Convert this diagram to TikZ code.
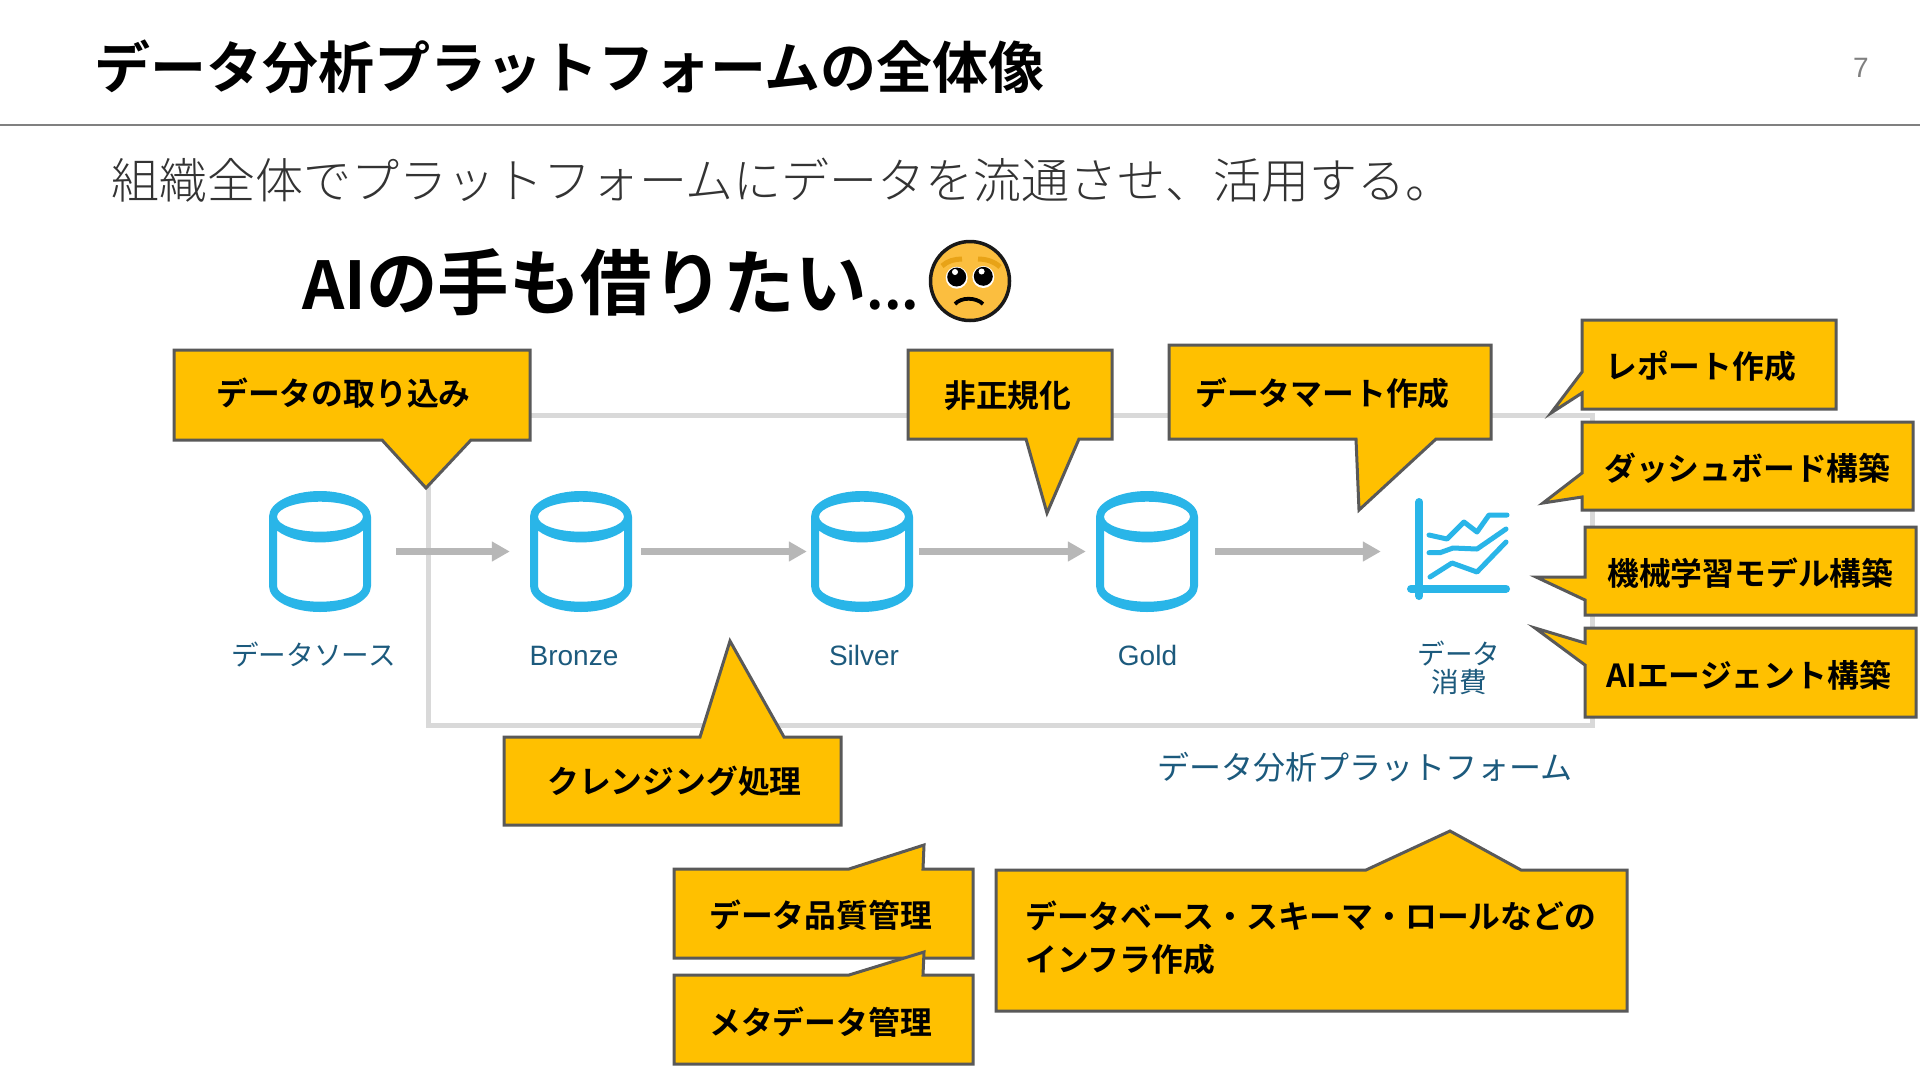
\documentclass[tikz,border=0pt]{standalone}
\usepackage{fontspec}
\usetikzlibrary{arrows.meta}
\setmainfont{Noto Sans CJK JP}[BoldFont={Noto Sans CJK JP Bold}]
\newfontfamily\titlefont{Noto Sans CJK JP Bold}
\newfontfamily\lightfont{Noto Sans CJK JP Light}
\newfontfamily\latinfont{Liberation Sans}
\definecolor{boxfill}{HTML}{FFC000}
\definecolor{boxline}{HTML}{595959}
\definecolor{cyl}{HTML}{29B5E8}
\definecolor{lab}{HTML}{1C5A7D}
\definecolor{platform}{HTML}{D9D9D9}
\definecolor{flowc}{HTML}{B7B7B7}
\definecolor{face}{HTML}{FBBE3F}
\definecolor{brow}{HTML}{E8A317}
\tikzset{
  x=1pt,y=-1pt,
  callout/.style={draw=boxline,fill=boxfill,line width=3pt,line join=miter},
  ctext/.style={anchor=west,inner sep=0pt,font=\fontsize{31.8}{44}\selectfont\bfseries,text=black,text height=26pt,text depth=6pt},
  lbl/.style={inner sep=0pt,text=lab,font=\fontsize{27.6}{28}\selectfont},
  latlbl/.style={inner sep=0pt,text=lab,font=\fontsize{28}{34}\selectfont\latinfont},
  cylnode/.style={minimum width=102pt,minimum height=121pt,inner sep=0pt},
  flow/.style={draw=flowc,line width=6.5pt,-{Triangle[length=18pt,width=19pt]}},
  chartline/.style={draw=cyl,line width=5pt,line cap=round,line join=round},
  chartaxis/.style={draw=cyl,line width=8pt,line cap=round},
}
\newcommand{\cylinder}[1]{%
  \begin{scope}[shift={(#1.center)}]
  \fill[cyl,even odd rule]
    (-51,-34.8) arc[start angle=180,end angle=0,x radius=51pt,y radius=25.7pt]
      -- (51,34.5) arc[start angle=0,end angle=-180,x radius=51pt,y radius=26pt] -- cycle
    (-43,-34.8) arc[start angle=180,end angle=-180,x radius=43pt,y radius=15pt] -- cycle
    (-43,-21) arc[start angle=212.5,end angle=327.5,x radius=51pt,y radius=25.7pt]
      -- (43,34.5) arc[start angle=0,end angle=-180,x radius=43pt,y radius=15.7pt] -- cycle;
  \end{scope}
}
\begin{document}
\begin{tikzpicture}
\useasboundingbox (0,0) rectangle (1920,1080);
\fill[white] (0,0) rectangle (1920,1080);
% header
\node[anchor=west,inner sep=0pt,font=\fontsize{56}{60}\selectfont\titlefont] (title) at (94,67) {データ分析プラットフォームの全体像};
\node[inner sep=0pt,text=gray,font=\fontsize{28}{30}\selectfont\latinfont] (page) at (1861,68) {7};
\draw[draw=gray,line width=2pt] (0,124.5) -- (1920,124.5);
\node[anchor=west,inner sep=0pt,text=black!80,font=\fontsize{48}{50}\selectfont\lightfont] (sub) at (111,180) {組織全体でプラットフォームにデータを流通させ、活用する。};
\node[anchor=base west,inner sep=0pt,font=\fontsize{71.5}{76}\selectfont\titlefont] (ai) at (302,309) {{\fontsize{66}{70}\selectfont AI}の手も借りたい{\fontsize{54}{60}\selectfont...}};
% emoji face
\begin{scope}[shift={(970,281)}]
  \draw[fill=face,draw=black!90,line width=3.5pt] (0,0) circle[radius=39.5];
  \draw[draw=brow,line width=5pt] (-28,-15) .. controls (-23,-20) and (-15,-22) .. (-8,-22);
  \draw[draw=brow,line width=5pt] (30,-14) .. controls (24,-20) and (15,-22) .. (8,-22);
  \fill[white] (-13.3,-3.3) circle[radius=11];
  \fill[white] (13.3,-4) circle[radius=11];
  \fill[black] (-13.3,-4) circle[radius=9.5];
  \fill[black] (13.3,-4.7) circle[radius=9.5];
  \fill[white] (-15,-9) circle[radius=3];
  \fill[white] (11.6,-9.5) circle[radius=3];
  \draw[black,line width=3.8pt] (-15,23) .. controls (-9,16) and (6,16) .. (13,23);
\end{scope}
% platform frame
\draw[draw=platform,line width=5pt] (428.5,415) rectangle (1592,725);
% cylinders
\node[cylnode] (c1) at (320,551.5) {};
\node[cylnode] (c2) at (581,551.5) {};
\node[cylnode] (c3) at (862,551.5) {};
\node[cylnode] (c4) at (1147,551.5) {};
\cylinder{c1}\cylinder{c2}\cylinder{c3}\cylinder{c4}
% chart icon
\node[inner sep=0pt,minimum width=103pt,minimum height=102pt] (chart) at (1458.5,549) {};
\draw[chartaxis] (1419.3,502) -- (1419.3,596);
\draw[chartaxis] (1411,588.7) -- (1506,588.7);
\draw[chartline] (1429,535) -- (1447,539) -- (1464,522) -- (1477,532) -- (1489,515) -- (1507,515);
\draw[chartline] (1429,552.7) -- (1440,552.7) -- (1453,548) -- (1477,549) -- (1506,529);
\draw[chartline] (1430,577) -- (1452,563) -- (1477,572) -- (1506,542);
% arrows
\draw[flow,shorten <=25pt,shorten >=20pt] (c1.east) -- (c2.west);
\draw[flow,shorten <=9pt,shorten >=4pt] (c2.east) -- (c3.west);
\draw[flow,shorten <=6pt,shorten >=10pt] (c3.east) -- (c4.west);
\draw[flow,shorten <=17pt,shorten >=26pt] (c4.east) -- (chart.west |- c4.east);
% labels
\node[lbl] (l1) at (313.5,654.5) {データソース};
\node[latlbl] (l2) at (574,655.5) {Bronze};
\node[latlbl] (l3) at (864,655) {Silver};
\node[latlbl] (l4) at (1147.5,655) {Gold};
\node[lbl,align=center] (l5) at (1459,668) {データ\\消費};
\node[lbl,font=\fontsize{32}{36}\selectfont] (l6) at (1365,767) {データ分析プラットフォーム};
% callouts
\draw[callout] (174,350) -- (530,350) -- (530,440) -- (471,440) -- (426,488) -- (382,440) -- (174,440) -- cycle;
\node[ctext] (t1) at (216,395) {データの取り込み};
\draw[callout] (908,350) -- (1112,350) -- (1112,439) -- (1079,439) -- (1047,513) -- (1026,439) -- (908,439) -- cycle;
\node[ctext] (t2) at (944,397) {非正規化};
\draw[callout] (1169,345) -- (1491,345) -- (1491,439) -- (1436,439) -- (1359,510) -- (1356,439) -- (1169,439) -- cycle;
\node[ctext] (t3) at (1195,395) {データマート作成};
\draw[callout] (1582,320) -- (1836,320) -- (1836,409) -- (1582,409) -- (1582,393) -- (1551,413) -- (1582,372) -- cycle;
\node[ctext] (t4) at (1605,368) {レポート作成};
\draw[callout] (1582,422) -- (1913,422) -- (1913,510) -- (1582,510) -- (1582,497) -- (1543,503) -- (1582,473) -- cycle;
\node[ctext] (t5) at (1604,470) {ダッシュボード構築};
\draw[callout] (1585,527) -- (1916,527) -- (1916,615) -- (1585,615) -- (1585,600) -- (1536,577) -- (1585,577) -- cycle;
\node[ctext] (t6) at (1607,575) {機械学習モデル構築};
\draw[callout] (1585,628) -- (1916,628) -- (1916,717) -- (1585,717) -- (1585,665) -- (1535,628) -- (1585,643) -- cycle;
\node[ctext] (t7) at (1606,677) {AIエージェント構築};
\draw[callout] (504,737) -- (700,737) -- (730,641) -- (784,737) -- (841,737) -- (841,825) -- (504,825) -- cycle;
\node[ctext] (t8) at (547,783) {クレンジング処理};
\draw[callout] (674,869) -- (849,869) -- (924,845) -- (923,869) -- (973,869) -- (973,958) -- (674,958) -- cycle;
\node[ctext] (t9) at (709,917) {データ品質管理};
\draw[callout] (674,975) -- (849,975) -- (924,952) -- (923,975) -- (973,975) -- (973,1064) -- (674,1064) -- cycle;
\node[ctext] (t10) at (709,1024) {メタデータ管理};
\draw[callout] (996,870) -- (1366,870) -- (1450,831) -- (1521,870) -- (1627,870) -- (1627,1011) -- (996,1011) -- cycle;
\node[ctext] (t11) at (1025,918) {データベース・スキーマ・ロールなどの};
\node[ctext] (t12) at (1025,961) {インフラ作成};
\end{tikzpicture}
\end{document}
